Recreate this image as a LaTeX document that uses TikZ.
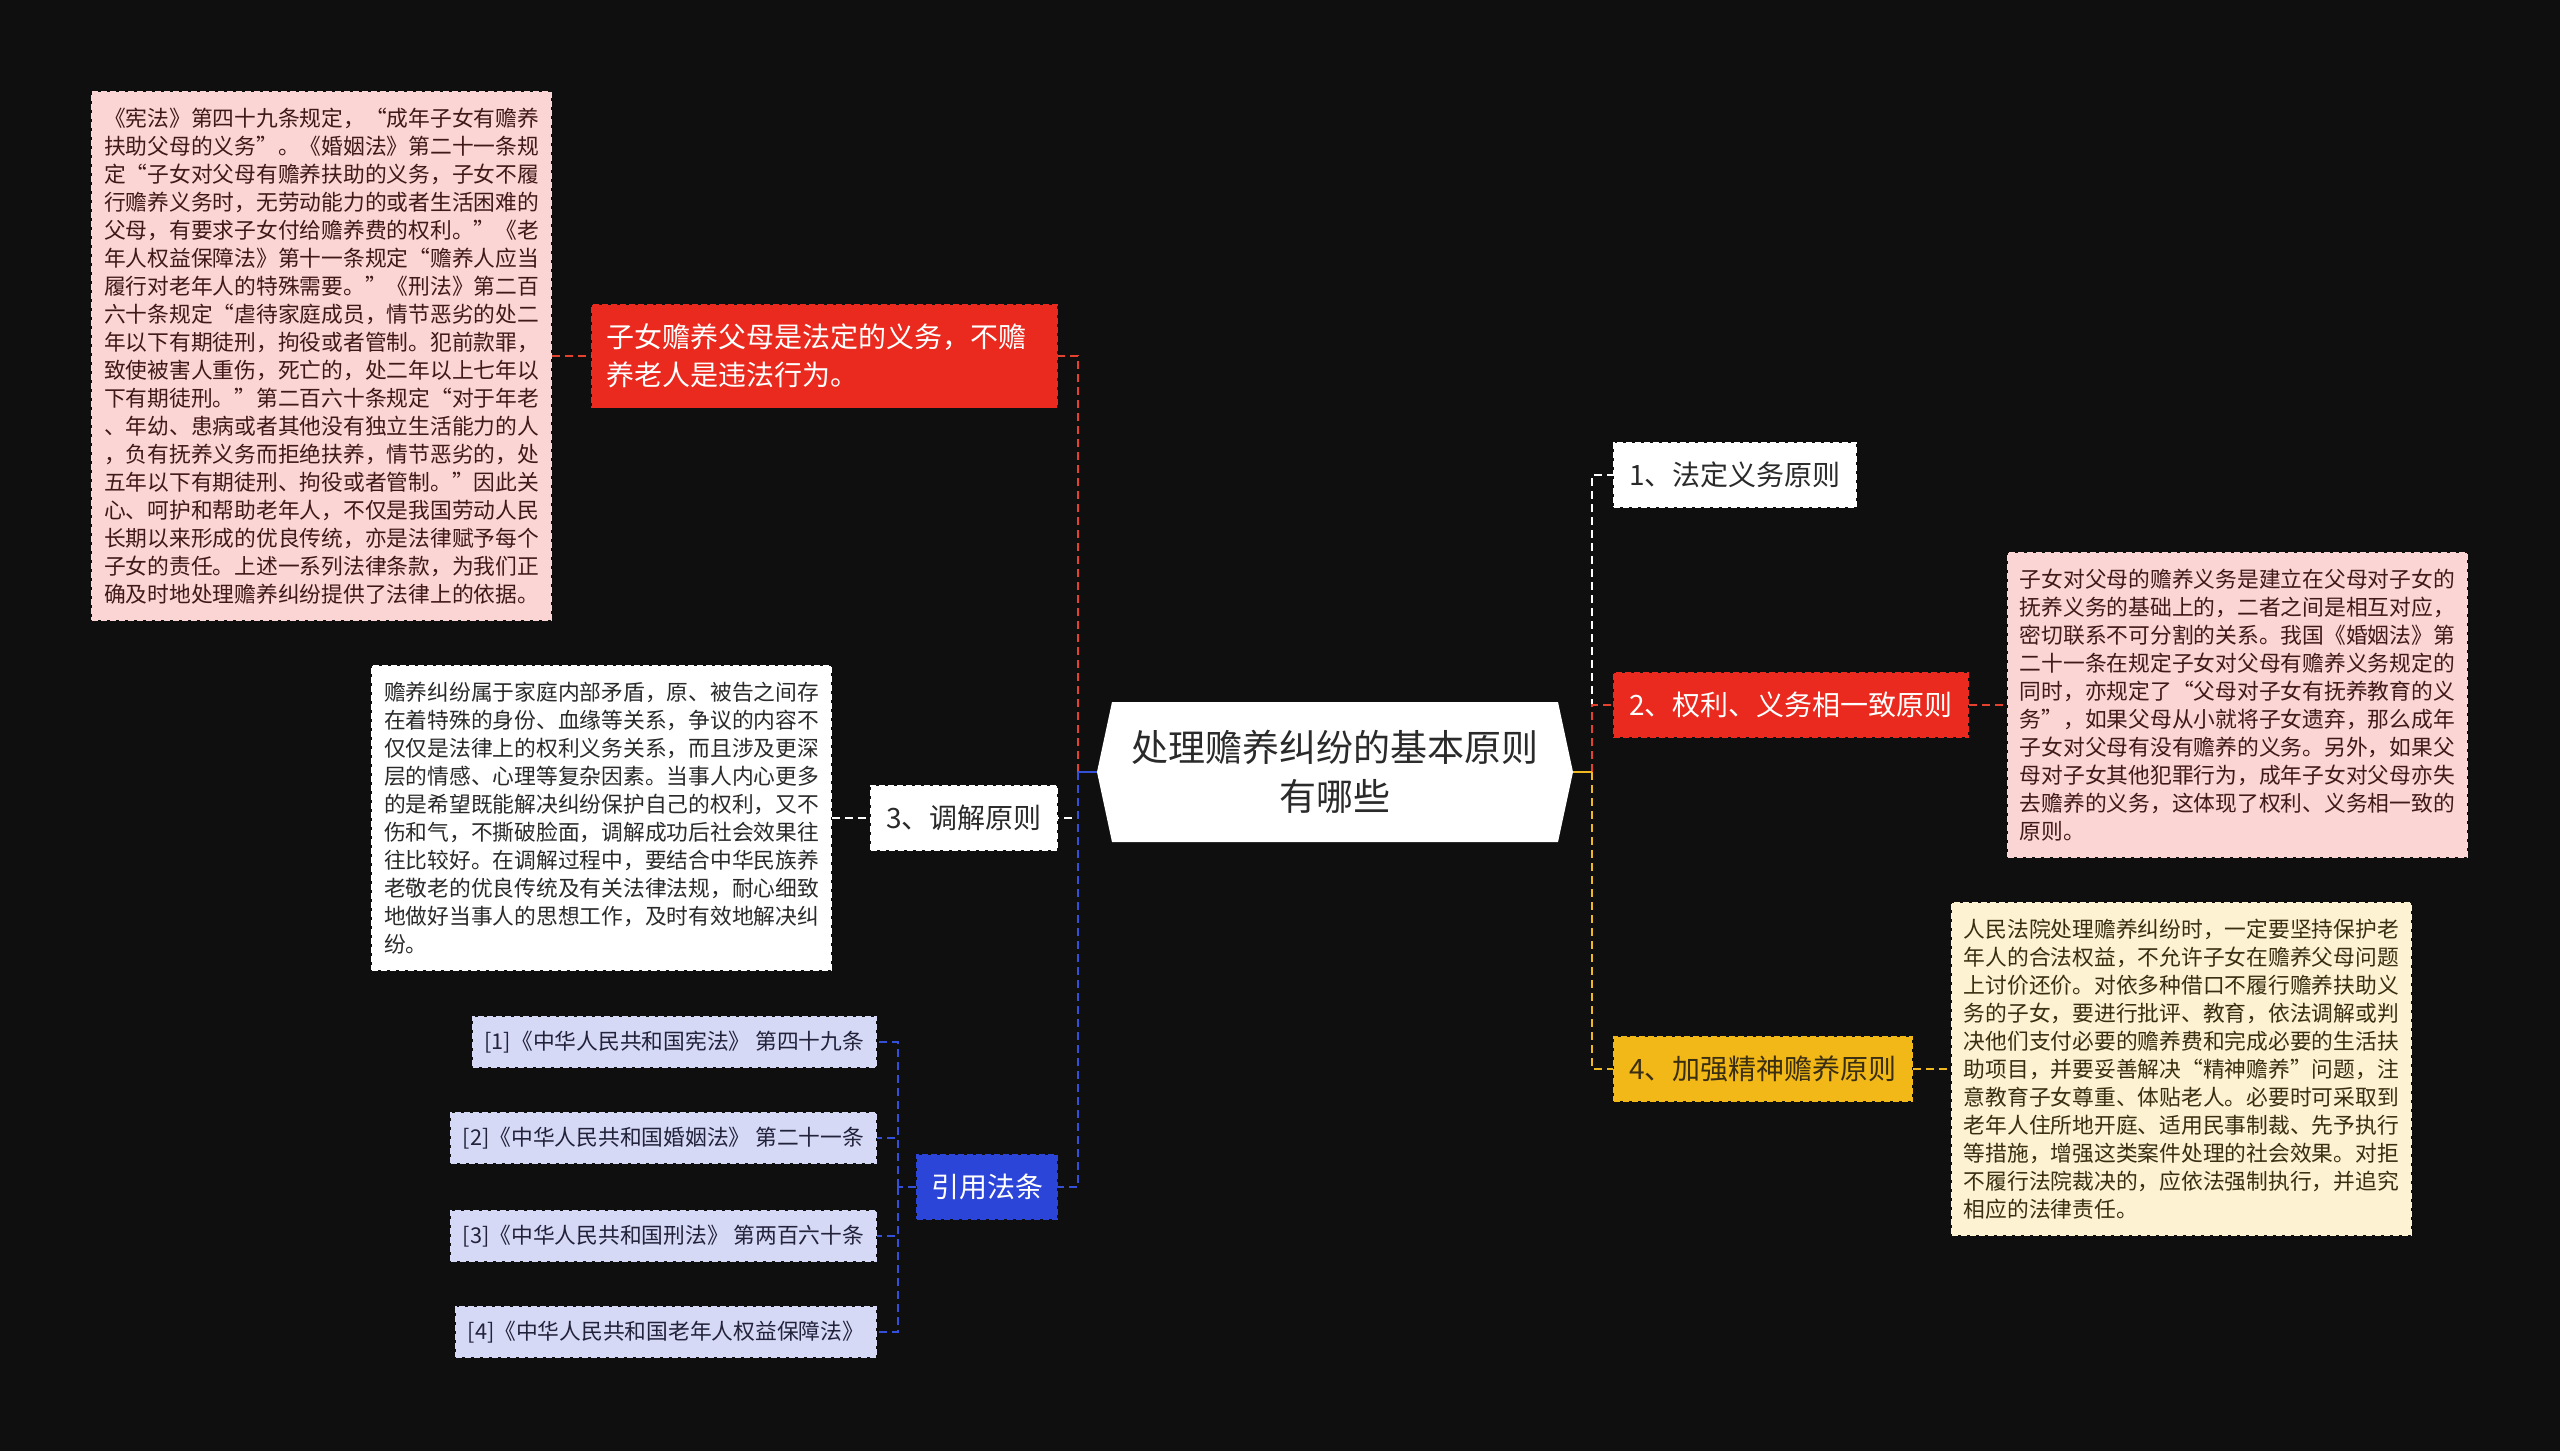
\documentclass[tikz,border=0pt]{standalone}
\usepackage{fontspec}
\setmainfont{Noto Sans CJK SC}
\definecolor{bg}{HTML}{0F0F0F}
\definecolor{cred}{HTML}{EA2A1E}
\definecolor{cpink}{HTML}{FAD5D4}
\definecolor{cyel}{HTML}{F1B817}
\definecolor{ccream}{HTML}{FDF2D2}
\definecolor{cblue}{HTML}{2B45D8}
\definecolor{clav}{HTML}{D6D9F6}
\definecolor{lred}{HTML}{E5412F}
\definecolor{lblue}{HTML}{3450D8}
\definecolor{lyel}{HTML}{F0B920}
\definecolor{tdark}{HTML}{2A2A2A}
\definecolor{tmaroon}{HTML}{401818}
\definecolor{tbrown}{HTML}{3A2E12}
\definecolor{tnavy}{HTML}{22223A}
\begin{document}
\begin{tikzpicture}[x=1pt,y=-1pt,
  box/.style={rectangle, dash pattern=on 6pt off 3pt, line width=1.6pt},
  para/.style={box, align=left, inner xsep=12pt, inner ysep=12pt,
    font=\fontsize{21.75}{28}\selectfont},
  branch/.style={box, align=left, inner xsep=15.5pt, minimum height=64pt,
    font=\fontsize{28}{38}\selectfont},
  cite/.style={box, fill=clav, draw=clav, text=tnavy, inner xsep=12pt,
    minimum height=50pt, font=\fontsize{21.75}{28}\selectfont},
  con/.style={line width=2.5pt, dash pattern=on 8pt off 5pt},
  stub/.style={line width=2.5pt}
]
\fill[bg] (0,0) rectangle (2560,1451);
\useasboundingbox (0,0) rectangle (2560,1451);

% centre
\fill[white] (1097,772) -- (1112,702) -- (1558,702) -- (1573,772) -- (1558,842) -- (1112,842) -- cycle;
\node[minimum width=476pt, minimum height=140pt, inner sep=0pt, align=center,
  font=\fontsize{37}{49}\selectfont, text=tdark] (c) at (1335,772)
  {处理赡养纠纷的基本原则\\有哪些};

\coordinate (tl) at (1078,772);
\coordinate (tr) at (1592,772);
\coordinate (ct) at (898,1187);

% left branches
\node[branch, fill=cred, draw=cred, text=white, text width=437pt, inner xsep=14pt,
  minimum height=103pt, anchor=east] (L1) at (1058,356)
  {子女赡养父母是法定的义务，不赡\\养老人是违法行为。};
\node[branch, fill=white, draw=white, text=tdark, anchor=east] (L3) at (1058,818) {3、调解原则};
\node[branch, fill=cblue, draw=cblue, text=white, inner xsep=14pt, anchor=east] (L4) at (1058,1187) {引用法条};

\node[para, fill=cpink, draw=cpink, text=tmaroon, minimum height=528pt, anchor=east] (L1d) at (552,356)
{《宪法》第四十九条规定，“成年子女有赡养\\
扶助父母的义务”。《婚姻法》第二十一条规\\
定“子女对父母有赡养扶助的义务，子女不履\\
行赡养义务时，无劳动能力的或者生活困难的\\
父母，有要求子女付给赡养费的权利。”《老\\
年人权益保障法》第十一条规定“赡养人应当\\
履行对老年人的特殊需要。”《刑法》第二百\\
六十条规定“虐待家庭成员，情节恶劣的处二\\
年以下有期徒刑，拘役或者管制。犯前款罪，\\
致使被害人重伤，死亡的，处二年以上七年以\\
下有期徒刑。”第二百六十条规定“对于年老\\
、年幼、患病或者其他没有独立生活能力的人\\
，负有抚养义务而拒绝扶养，情节恶劣的，处\\
五年以下有期徒刑、拘役或者管制。”因此关\\
心、呵护和帮助老年人，不仅是我国劳动人民\\
长期以来形成的优良传统，亦是法律赋予每个\\
子女的责任。上述一系列法律条款，为我们正\\
确及时地处理赡养纠纷提供了法律上的依据。};

\node[para, fill=white, draw=white, text=tdark, minimum height=304pt, anchor=east] (L3d) at (832,818)
{赡养纠纷属于家庭内部矛盾，原、被告之间存\\
在着特殊的身份、血缘等关系，争议的内容不\\
仅仅是法律上的权利义务关系，而且涉及更深\\
层的情感、心理等复杂因素。当事人内心更多\\
的是希望既能解决纠纷保护自己的权利，又不\\
伤和气，不撕破脸面，调解成功后社会效果往\\
往比较好。在调解过程中，要结合中华民族养\\
老敬老的优良传统及有关法律法规，耐心细致\\
地做好当事人的思想工作，及时有效地解决纠\\
纷。};

\node[cite, anchor=east] (k1) at (877,1042) {[1]《中华人民共和国宪法》 第四十九条};
\node[cite, anchor=east] (k2) at (877,1138) {[2]《中华人民共和国婚姻法》 第二十一条};
\node[cite, anchor=east] (k3) at (877,1236) {[3]《中华人民共和国刑法》 第两百六十条};
\node[cite, anchor=east] (k4) at (877,1332) {[4]《中华人民共和国老年人权益保障法》};

% right branches
\node[branch, fill=white, draw=white, text=tdark, anchor=west] (R1) at (1613,475) {1、法定义务原则};
\node[branch, fill=cred, draw=cred, text=white, anchor=west] (R2) at (1613,705) {2、权利、义务相一致原则};
\node[branch, fill=cyel, draw=cyel, text=tbrown, anchor=west] (R4) at (1613,1069) {4、加强精神赡养原则};

\node[para, fill=cpink, draw=cpink, text=tmaroon, minimum height=304pt, anchor=west] (R2d) at (2007,705)
{子女对父母的赡养义务是建立在父母对子女的\\
抚养义务的基础上的，二者之间是相互对应，\\
密切联系不可分割的关系。我国《婚姻法》第\\
二十一条在规定子女对父母有赡养义务规定的\\
同时，亦规定了“父母对子女有抚养教育的义\\
务”，如果父母从小就将子女遗弃，那么成年\\
子女对父母有没有赡养的义务。另外，如果父\\
母对子女其他犯罪行为，成年子女对父母亦失\\
去赡养的义务，这体现了权利、义务相一致的\\
原则。};

\node[para, fill=ccream, draw=ccream, text=tbrown, minimum height=332pt, anchor=west] (R4d) at (1951,1069)
{人民法院处理赡养纠纷时，一定要坚持保护老\\
年人的合法权益，不允许子女在赡养父母问题\\
上讨价还价。对依多种借口不履行赡养扶助义\\
务的子女，要进行批评、教育，依法调解或判\\
决他们支付必要的赡养费和完成必要的生活扶\\
助项目，并要妥善解决“精神赡养”问题，注\\
意教育子女尊重、体贴老人。必要时可采取到\\
老年人住所地开庭、适用民事制裁、先予执行\\
等措施，增强这类案件处理的社会效果。对拒\\
不履行法院裁决的，应依法强制执行，并追究\\
相应的法律责任。};

% connectors left
\draw[con, white] (tl) |- (L3.east);
\draw[con, lred] (tl) |- (L1.east);
\draw[con, lblue] (tl) |- (L4.east);
\draw[stub, lblue] (c.west) -- (tl);
\draw[con, lred] (L1d.east) -- (L1.west);
\draw[con, white] (L3d.east) -- (L3.west);
\draw[con, lblue] (L4.west) -- (ct);
\draw[con, lblue] (ct) |- (k1.east);
\draw[con, lblue] (ct) |- (k2.east);
\draw[con, lblue] (ct) |- (k3.east);
\draw[con, lblue] (ct) |- (k4.east);

% connectors right
\draw[con, white] (tr) |- (R1.west);
\draw[con, lred] (tr) |- (R2.west);
\draw[con, lyel] (tr) |- (R4.west);
\draw[stub, lyel] (c.east) -- (tr);
\draw[con, lred] (R2.east) -- (R2d.west);
\draw[con, lyel] (R4.east) -- (R4d.west);
\end{tikzpicture}
\end{document}
